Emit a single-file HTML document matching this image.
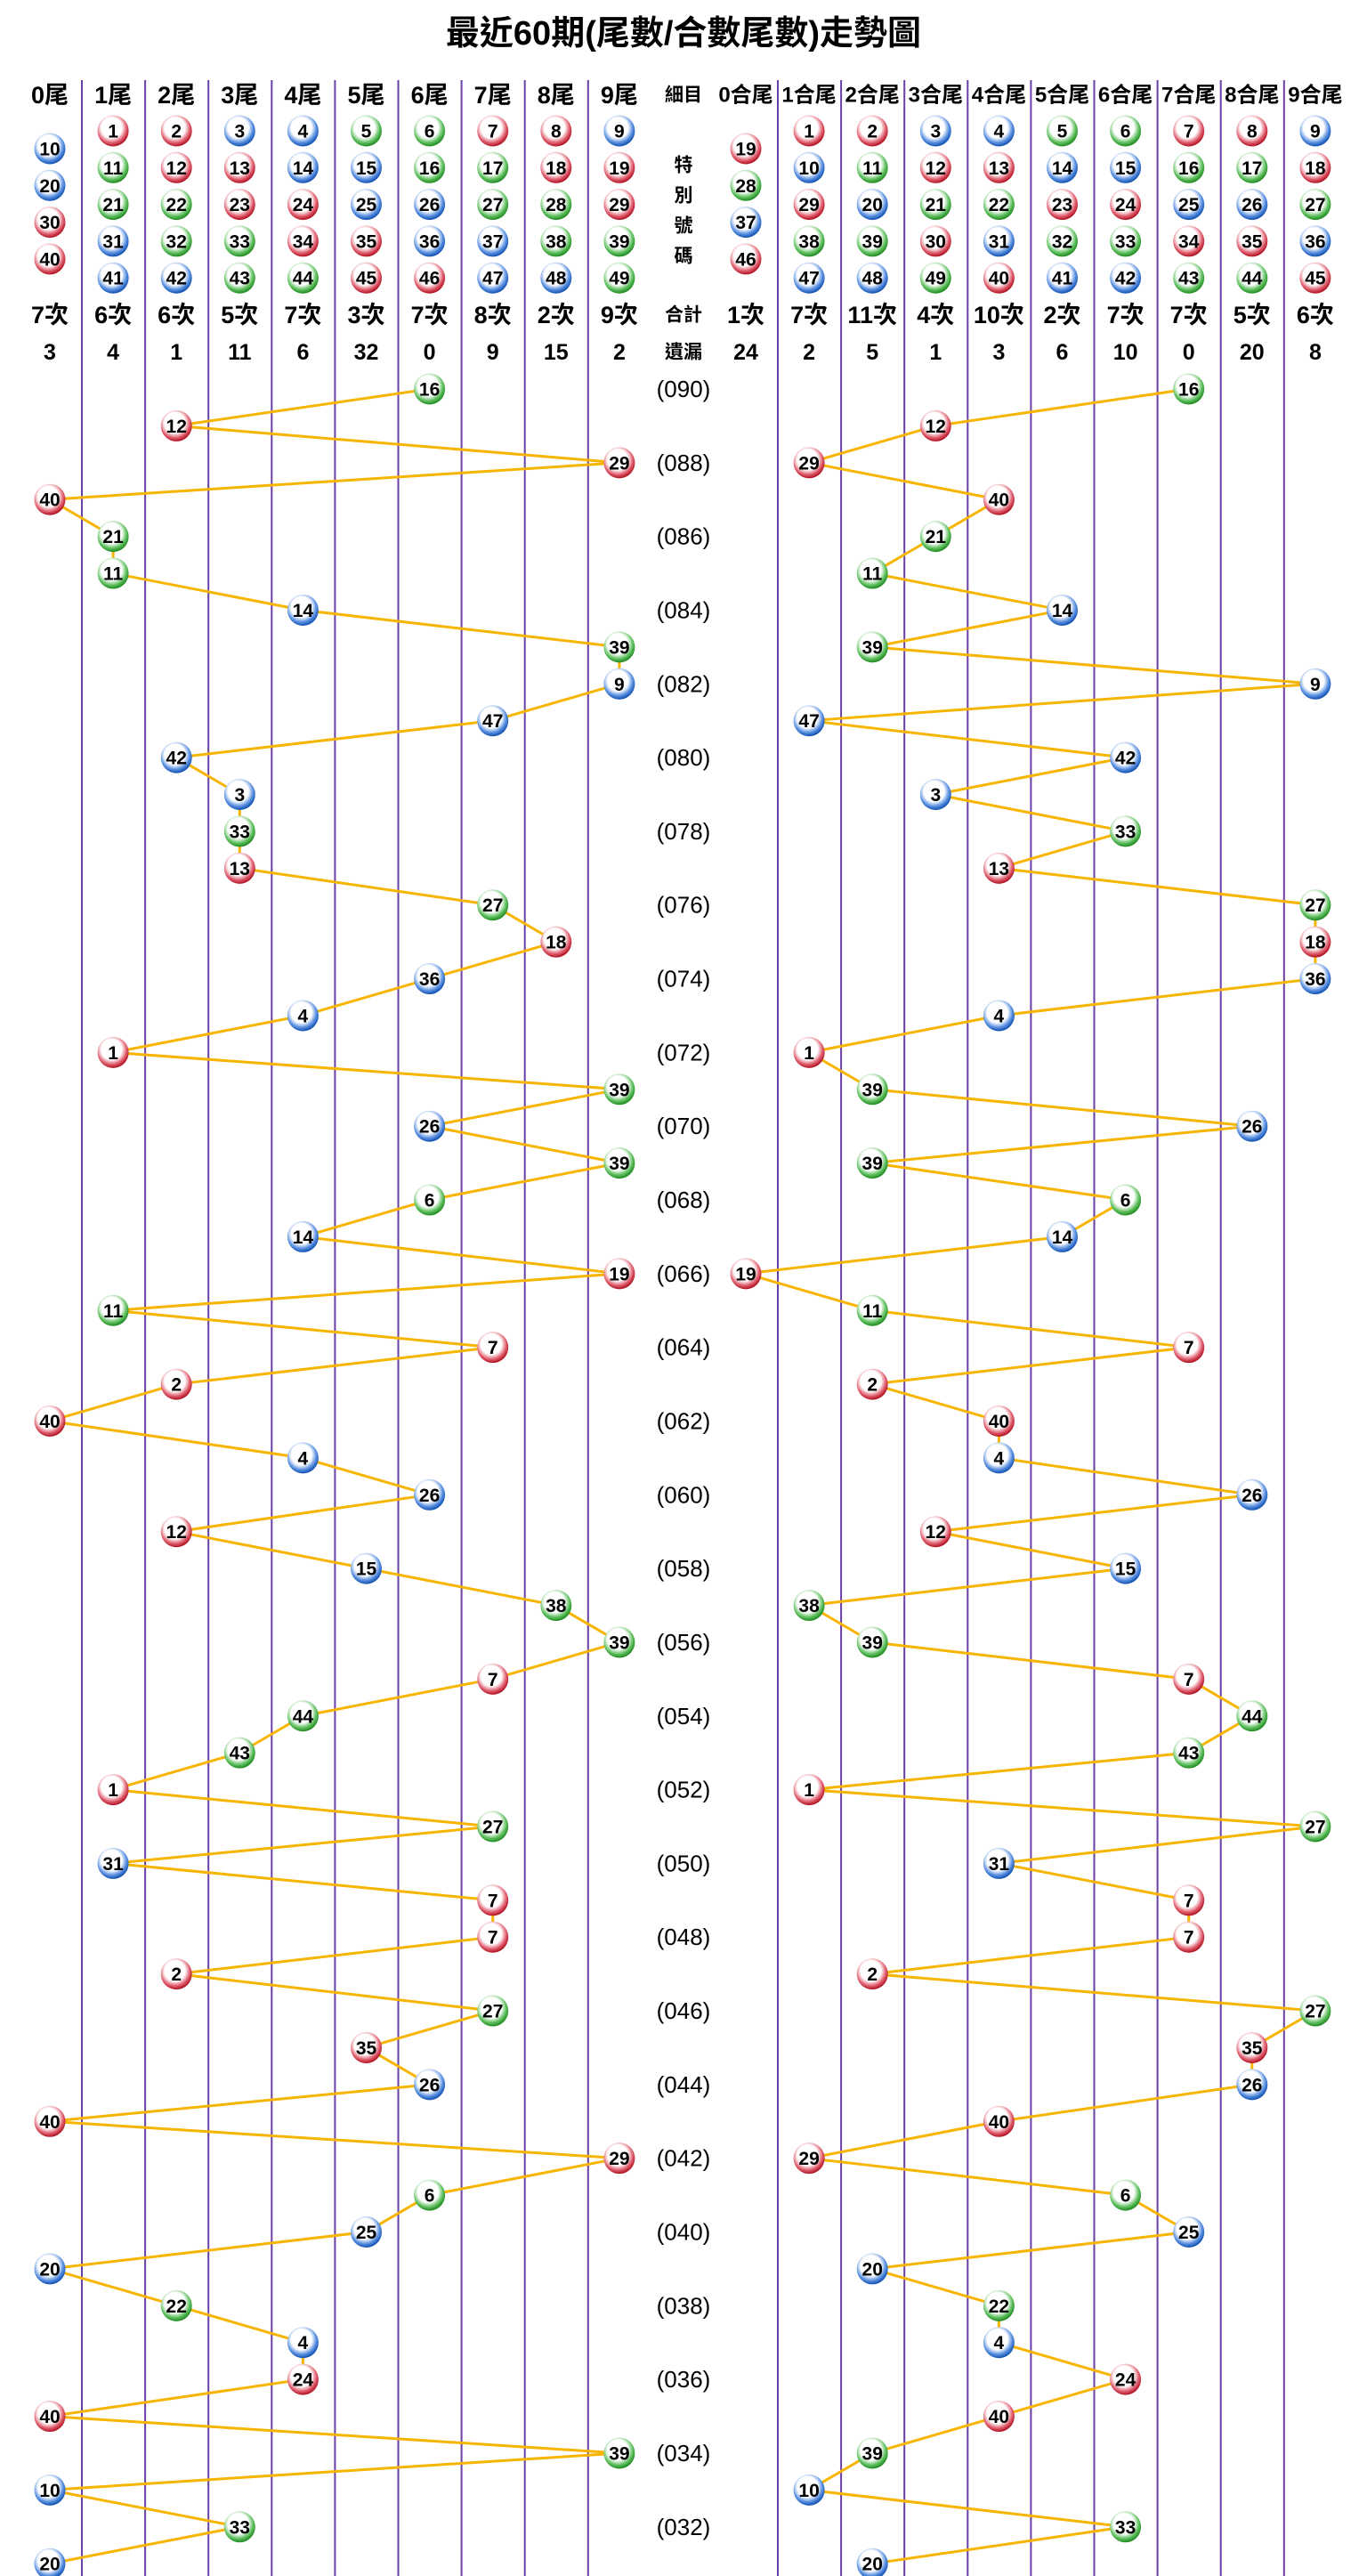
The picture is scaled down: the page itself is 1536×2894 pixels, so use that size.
<!DOCTYPE html>
<html><head><meta charset="utf-8">
<style>
html,body{margin:0;padding:0;background:#fff;}
svg{display:block;}
text{font-family:"Liberation Sans Narrow","Liberation Sans","Noto Sans CJK TC",sans-serif;}
</style></head>
<body>
<svg id="chart" width="1536" height="2894" viewBox="0 0 1536 2894" xmlns="http://www.w3.org/2000/svg">
<defs>
<radialGradient id="gr" cx="45%" cy="40%" r="60%"><stop offset="55%" stop-color="#fff"/><stop offset="80%" stop-color="#e06070"/><stop offset="100%" stop-color="#b01020"/></radialGradient>
<radialGradient id="gb" cx="45%" cy="40%" r="60%"><stop offset="55%" stop-color="#fff"/><stop offset="80%" stop-color="#5a90e0"/><stop offset="100%" stop-color="#1050b0"/></radialGradient>
<radialGradient id="gg" cx="45%" cy="40%" r="60%"><stop offset="55%" stop-color="#fff"/><stop offset="80%" stop-color="#60c060"/><stop offset="100%" stop-color="#208a20"/></radialGradient>
</defs>
<text x="768" y="50" text-anchor="middle" font-size="38" font-weight="bold" font-family="Liberation Sans Narrow, Noto Sans CJK TC, sans-serif">最近60期(尾數/合數尾數)走勢圖</text>
<g id="grid"></g>
<g id="links"></g>
<g id="balls"></g>
<g id="labels"></g>
</svg>
<script>
const periods = [90,89,88,87,86,85,84,83,82,81,80,79,78,77,76,75,74,73,72,71,70,69,68,67,66,65,64,63,62,61,60,59,58,57,56,55,54,53,52,51,50,49,48,47,46,45,44,43,42,41,40,39,38,37,36,35,34,33,32,31];
const specials = [16,12,29,40,21,11,14,39,9,47,42,3,33,13,27,18,36,4,1,39,26,39,6,14,19,11,7,2,40,4,26,12,15,38,39,7,44,43,1,27,31,7,7,2,27,35,26,40,29,6,25,20,22,4,24,40,39,10,33,20];
const tailCounts = ["7次","6次","6次","5次","7次","3次","7次","8次","2次","9次"];
const tailMiss = ["3","4","1","11","6","32","0","9","15","2"];
const sumCounts = ["1次","7次","11次","4次","10次","2次","7次","7次","5次","6次"];
const sumMiss = ["24","2","5","1","3","6","10","0","20","8"];

const NS = "http://www.w3.org/2000/svg";
const svg = document.getElementById('chart');
const gGrid = document.getElementById('grid');
const gLinks = document.getElementById('links');
const gBalls = document.getElementById('balls');
const gLab = document.getElementById('labels');
const STEP = 71.1;
const leftX = i => 56 + STEP * i;
const rightX = j => 838 + STEP * j;
const rowY = k => 437 + 41.41 * k;
const red = [1,2,7,8,12,13,18,19,23,24,29,30,34,35,40,45,46];
const blue = [3,4,9,10,14,15,20,25,26,31,36,37,41,42,47,48];
function colorOf(n){ return red.includes(n) ? 'gr' : (blue.includes(n) ? 'gb' : 'gg'); }
const digitSum = n => (Math.floor(n/10) + n%10) % 10;

function el(tag, attrs, parent){ const e = document.createElementNS(NS, tag); for (const k in attrs) e.setAttribute(k, attrs[k]); parent.appendChild(e); return e; }
function txt(x, y, s, size, parent, opts){
  const t = el('text', Object.assign({x:x, y:y, 'text-anchor':'middle', 'font-size':size, 'dominant-baseline':'central'}, opts||{}), parent);
  t.textContent = s; return t;
}
function ball(x, y, n, name){
  const g = el('g', {}, gBalls);
  
  
  el('circle', {cx:x, cy:y, r:17.5, fill:'url(#'+colorOf(n)+')'}, g);
  txt(x, y+1, String(n), 21, g, {'font-weight':'bold'});
}

// vertical lines
for (let k = 0; k < 9; k++) {
  const l1 = el('line', {x1:92+STEP*k, y1:90, x2:92+STEP*k, y2:2894, stroke:'#6a3fa8', 'stroke-width':2}, gGrid);
  
  
  const l2 = el('line', {x1:874+STEP*k, y1:90, x2:874+STEP*k, y2:2894, stroke:'#6a3fa8', 'stroke-width':2}, gGrid);
  
  
}

// headers
for (let i = 0; i < 10; i++) {
  const h = txt(leftX(i), 107, i + '尾', 27, gLab, {'font-weight':'bold'});
  
  
  const h2 = txt(rightX(i), 107, i + '合尾', 24, gLab, {'font-weight':'bold'});
  
  
  const c1 = txt(leftX(i), 354, tailCounts[i], 27, gLab, {'font-weight':'bold'});
  
  
  const c2 = txt(rightX(i), 354, sumCounts[i], 27, gLab, {'font-weight':'bold'});
  
  
  const m1 = txt(leftX(i), 396, tailMiss[i], 25, gLab, {'font-weight':'bold'});
  
  
  const m2 = txt(rightX(i), 396, sumMiss[i], 25, gLab, {'font-weight':'bold'});
  
  
  // header balls
  const lt = [], rt = [];
  for (let n = 1; n <= 49; n++) { if (n % 10 === i) lt.push(n); if (digitSum(n) === i) rt.push(n); }
  const lStart = lt.length === 4 ? 167 : 147, lStep = lt.length === 4 ? 41.3 : 41.3;
  lt.forEach((n, k) => ball(leftX(i), lStart + lStep*k, n, 'legend-ball'));
  const rStart = rt.length === 4 ? 167 : 147;
  rt.forEach((n, k) => ball(rightX(i), rStart + 41.3*k, n, 'legend-ball'));
}
const mid = 768;
[['細目',107],['合計',354],['遺漏',396]].forEach(a => {
  const t = txt(mid, a[1], a[0], 21, gLab, {'font-weight':'bold','font-family':'Noto Sans CJK TC, sans-serif'});
  
  
});
['特','別','號','碼'].forEach((c, k) => {
  const t = txt(mid, 186 + 34*k, c, 21, gLab, {'font-weight':'bold','font-family':'Noto Sans CJK TC, sans-serif'});
  
  
});

// period labels
periods.forEach((p, k) => {
  if (p % 2 === 0) {
    const t = txt(mid, rowY(k), '(0' + String(p).padStart(2,'0') + ')', 26, gLab);
    
    
  }
});

// links
let lp = '', rp = '';
specials.forEach((n, k) => {
  lp += (k ? ' L' : 'M') + leftX(n % 10) + ' ' + rowY(k);
  rp += (k ? ' L' : 'M') + rightX(digitSum(n)) + ' ' + rowY(k);
});
const pl = el('path', {d:lp, fill:'none', stroke:'#f7b500', 'stroke-width':3}, gLinks);


const pr = el('path', {d:rp, fill:'none', stroke:'#f7b500', 'stroke-width':3}, gLinks);



specials.forEach((n, k) => {
  ball(leftX(n % 10), rowY(k), n, 'tail-ball');
  ball(rightX(digitSum(n)), rowY(k), n, 'sum-tail-ball');
});
</script>
</body></html>
